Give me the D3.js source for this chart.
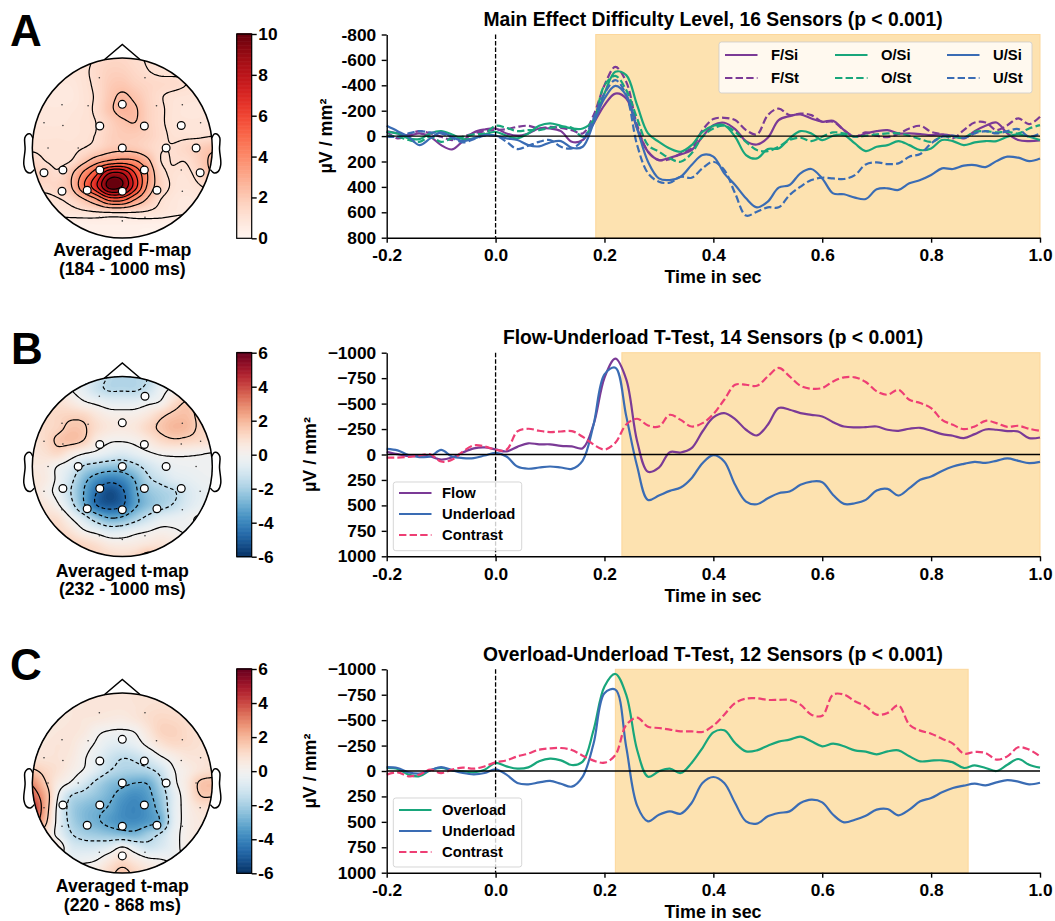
<!DOCTYPE html>
<html>
<head>
<meta charset="utf-8">
<script src="https://cdn.jsdelivr.net/npm/d3@7"></script>
<style>
  html, body { margin: 0; padding: 0; background: #fff; }
  text { font-family: "Liberation Sans", Arial, sans-serif; font-weight: bold; fill: #000; }
</style>
</head>
<body>
<svg id="fig" width="1055" height="921"></svg>
<script>
// time axis of all line plots (sec), one sample every 20 ms
const times = d3.range(61).map((i) => -0.2 + i * 0.02);

// panel A series (uV / mm2, negative is up)
const fSi = [-39,-21,-3,-21,5,71,105,39,-29,-52,-60,-21,-3,-21,-60,-60,-39,45,31,-100,-244,-335,-296,-60,123,189,170,144,110,5,-86,-105,-55,39,66,13,-126,-157,-170,-139,-113,-120,-47,5,-21,-39,-47,-21,-21,-16,-8,-13,-3,18,-39,-81,-107,-21,31,39,34];
const fSt = [-34,18,-13,-39,-21,5,31,5,-21,-39,-47,-55,-73,-81,-60,-73,-65,-47,-21,-165,-401,-545,-427,-86,123,189,181,136,97,-47,-134,-144,-126,-47,-13,-165,-217,-165,-178,-165,-113,-113,-47,5,-29,-3,8,-18,-60,-81,-34,-13,18,-47,-107,-107,-47,-86,-139,-94,-152];
const oSi = [-34,-21,18,24,-21,-39,-13,24,18,-13,-34,-3,18,-21,-81,-100,-81,-60,-60,-126,-335,-506,-480,-244,-21,45,97,123,71,-34,-81,-86,5,149,176,102,97,18,-39,-21,31,-3,-8,58,118,84,71,39,71,110,97,31,39,71,50,39,39,5,-13,5,31];
const oSt = [-3,5,31,45,5,45,18,5,-13,-21,-81,-65,-39,-47,-47,-65,-73,-65,5,-113,-401,-474,-362,-139,71,123,176,202,136,5,-60,-81,-34,45,110,118,84,31,13,39,5,-29,-21,5,-3,-13,-21,-21,-3,24,45,5,5,13,-34,-39,-29,-34,-21,-60,-86];
const uSi = [-81,-39,5,71,18,-29,5,39,18,-8,-3,18,31,71,81,50,39,92,84,-100,-296,-396,-322,-60,202,333,346,320,228,149,162,293,385,490,561,516,406,385,293,259,333,451,458,485,495,419,411,424,372,346,307,254,259,233,228,244,197,162,170,197,176];
const uSt = [5,5,-21,-39,-29,-21,13,50,24,-3,-3,45,102,76,45,31,84,97,31,-139,-335,-440,-322,71,293,359,367,320,328,254,202,267,451,626,595,561,561,464,398,346,328,333,338,307,223,207,220,215,162,141,58,5,-3,13,-21,-39,-21,-39,-55,5,-21];

// panel B series
const flowB = [-26,-3,15,10,20,50,30,-20,-60,-70,-50,-30,-75,-110,-100,-100,-85,-80,-62,-295,-754,-941,-738,-131,170,130,-23,-20,-62,-226,-364,-407,-348,-243,-187,-292,-456,-440,-407,-390,-374,-318,-275,-266,-269,-275,-243,-233,-253,-262,-233,-200,-184,-161,-200,-246,-243,-230,-226,-161,-167];
const underB = [-55,-40,5,25,20,-45,20,35,35,10,-15,20,118,140,128,118,128,141,59,-295,-787,-853,-377,115,446,403,357,325,233,85,7,69,298,462,489,430,380,364,298,266,272,397,485,479,446,354,338,403,331,249,216,161,118,92,72,82,62,39,62,85,72];
const contrastB = [30,30,23,10,-3,69,52,-30,-89,-79,-46,-46,-226,-253,-233,-220,-226,-230,-174,-98,-49,-115,-295,-351,-285,-275,-390,-340,-275,-308,-397,-538,-685,-685,-675,-767,-850,-767,-675,-646,-653,-718,-758,-758,-712,-620,-587,-636,-538,-505,-456,-341,-292,-249,-275,-331,-308,-272,-282,-253,-233];

// panel C series
const overC = [-30,-20,36,52,-7,-30,-7,3,13,-13,-79,-46,-23,-36,-95,-121,-105,-59,-92,-403,-830,-954,-748,-207,56,3,-23,20,-79,-226,-380,-400,-275,-193,-203,-249,-289,-308,-338,-292,-243,-269,-243,-203,-190,-164,-193,-203,-144,-95,-102,-105,-85,-30,-56,-30,0,-62,-118,-62,-33];
const underC = [-39,-30,13,26,-7,-39,-7,20,33,20,-16,36,118,131,112,98,125,154,55,-270,-765,-800,-235,340,495,430,397,420,315,118,59,118,315,495,518,446,413,397,315,282,308,430,505,479,440,380,374,436,380,298,266,210,167,144,125,141,112,89,105,131,115];
const contrastC = [36,13,52,36,-13,20,-13,-33,-23,-46,-85,-105,-144,-171,-210,-223,-226,-207,-151,-102,-82,-157,-453,-525,-436,-423,-407,-390,-390,-384,-446,-554,-669,-712,-715,-699,-699,-699,-653,-554,-544,-751,-751,-686,-636,-554,-571,-646,-456,-397,-367,-318,-269,-171,-187,-177,-112,-144,-233,-210,-144];

// tick labels
const xTicks = [-0.2, 0, 0.2, 0.4, 0.6, 0.8, 1.0];
const yTicksA = [-800, -600, -400, -200, 0, 200, 400, 600, 800];
const yTicksT = [-1000, -750, -500, -250, 0, 250, 500, 750, 1000];
const cbarTicksF = [0, 2, 4, 6, 8, 10];
const cbarTicksT = [-6, -4, -2, 0, 2, 4, 6];

// sensor layout in head radius units
const sensorNames = ["Fp1","Fp2","F7","F3","Fz","F4","F8","FT9","FC5","FC1","FC2","FC6","FT10","T7","C3","Cz","C4","T8","TP9","CP5","CP1","CP2","CP6","TP10","P7","P3","Pz","P4","P8","O1","Oz","O2"];
const sensorX = [-.255,.252,-.67,-.38,0,.38,.667,-.87,-.66,-.25,.245,.655,.87,-.825,-.49,0,.487,.82,-.87,-.66,-.25,.245,.655,.865,-.67,-.39,0,.385,.667,-.255,0,.252];
const sensorY = [.78,.78,.48,.47,.485,.47,.48,.28,.25,.245,.245,.25,.28,0,0,0,0,0,-.275,-.245,-.245,-.245,-.245,-.275,-.48,-.47,-.48,-.47,-.48,-.77,-.81,-.77];
const sigA = ["Fz","FC1","FC2","FC6","Cz","C4","T8","TP9","CP5","CP1","CP2","TP10","P7","P3","Pz","P4"];
const sigB = ["Fp2","Fz","FC1","FC2","C3","Cz","C4","CP5","CP1","CP2","CP6","P3","Pz","P4"];
const sigC = ["Fz","FC1","FC2","Cz","C4","CP5","CP1","CP2","P3","Pz","P4","Oz"];

// head outline in head radius units
const noseX = [-.2, 0, .2];
const noseY = [.98, 1.15, .98];
const earX = [.994, 1.02, 1.036, 1.06, 1.084, 1.08, 1.094, 1.064, 1.02, .978];
const earY = [.111, .155, .157, .149, .111, -.011, -.186, -.263, -.277, -.24];

const gridA = [
  [.98,.98,.98,.98,.98,1.31,1.53,1.53,1.31,1.14,.98,.98,.98,.98,.98],
  [.98,.98,.98,.98,1.07,1.42,1.74,1.74,1.47,1.22,1.04,1.04,1.09,.98,.98],
  [.87,.87,.82,.82,1.04,1.36,1.91,2.07,1.74,1.53,1.42,1.36,1.2,1.04,.98],
  [.76,.76,.71,.76,1,1.31,2.07,2.56,2.18,1.64,1.25,1.04,.98,.93,.93],
  [.82,.82,.82,.87,1,1.36,2.18,2.73,2.51,1.74,1.31,.98,.87,.87,.93],
  [.87,.87,.87,.93,1.04,1.22,1.74,2.23,2.4,1.74,1.31,.98,.93,.93,.98],
  [.98,.98,.98,.98,1.04,1.25,1.74,1.95,1.95,1.74,1.36,1.09,1.04,1.04,1.14],
  [1.09,1.04,1.04,1.04,1.2,1.53,2,2.1,2,1.64,1.25,1.25,1.53,1.85,2.18],
  [1.53,1.2,1.04,1.2,2.07,3.05,3.7,4,3.7,2.62,1.2,1.25,1.25,1.85,2.62],
  [1.85,1.64,1.31,2.18,3.9,5.8,8.5,8.5,6,3.5,1.53,1.09,1.04,1.53,2.4],
  [1.53,1.42,1.64,2.29,4.6,7,10,9.5,6.5,3.3,1.74,1.04,.93,1.14,1.42],
  [1.09,.98,1.14,1.47,2.3,3.5,5.2,5.2,3.6,2.2,1.2,.87,.76,.87,.98],
  [.87,.82,.87,.93,1.04,1.14,1.23,1.25,1.2,1.09,.93,.78,.71,.76,.76],
  [.33,.33,.33,.33,.35,.38,.38,.38,.38,.35,.35,.33,.33,.33,.33],
  [.33,.33,.33,.33,.33,.33,.33,.33,.33,.33,.33,.33,.33,.33,.33]
];
const gridB = [
  [.5,.5,.5,.3,-.3,-1,-1.6,-1.8,-1.7,-1.5,-.6,.1,.5,.5,.5],
  [.8,.8,.7,.05,-.5,-1.2,-1.6,-1.6,-1.6,-1.2,-.3,.2,.9,1,1],
  [1,1,.9,.6,.1,-.2,-.5,-.55,-.5,-.2,.1,1,1.55,1.2,1.1],
  [.9,1.1,1.2,1.3,1.2,.7,.35,.3,.35,.7,1.3,1.7,1.8,1.3,1],
  [.9,1.1,1.3,1.7,1.6,1,.65,.55,.7,1.2,1.65,2,1.9,1.35,1],
  [.8,1.1,1.65,1.8,1.45,.5,.1,.05,.2,.6,1.1,1.35,1.25,1.1,.9],
  [.7,.9,1.1,.5,.02,-.25,-.6,-.8,-.5,-.15,.1,.15,.12,.05,-.05],
  [.6,.5,-.05,-.6,-1.6,-2,-2.3,-2.3,-1.8,-1.1,-.6,-.3,-.2,-.15,-.1],
  [.7,.5,-.2,-1.2,-2.6,-3.6,-4.1,-3.8,-2.9,-1.7,-1.2,-.7,-.5,-.3,-.2],
  [.8,.3,-.3,-1.5,-3,-4.5,-5.3,-4.7,-3.2,-2.3,-1.9,-1.6,-.9,-.5,-.3],
  [.8,.7,.1,-1.1,-2.8,-4.5,-5,-4.6,-3.2,-2.4,-1.9,-1.4,-.8,-.4,-.2],
  [1,1,.9,0,-1,-2.2,-3,-2.8,-2,-1.2,-.6,-.4,-.2,.1,.1],
  [1.2,1.2,1.2,.8,.1,-.35,-.8,-.7,-.3,-.05,.2,.1,-.1,0,0],
  [1.5,1.5,1.5,1.4,1.2,.9,.5,.4,.5,.7,.8,.6,.4,.4,.4],
  [1.5,1.6,1.6,1.6,1.5,1.3,1.1,1,1.2,1.8,1.3,.8,.6,.6,.6]
];
const gridC = [
  [.7,.7,.7,.7,.7,.8,.8,.8,.8,.8,.8,.8,.8,.8,.8],
  [.7,.7,.7,.7,.7,.75,.75,.75,.8,.9,.95,.9,.9,.8,.8],
  [.6,.6,.6,.7,.7,.65,.55,.5,.7,1,1.2,1.15,1,.8,.8],
  [.6,.6,.7,.75,.6,.15,-.05,-.1,.05,.7,1.3,1.35,1.1,.9,.8],
  [.6,.7,.8,.7,.3,-.1,-.55,-.65,-.4,.2,.8,1.1,1.05,.9,.8],
  [.8,.8,.8,.6,.1,-.45,-1.1,-1.45,-1.3,-.8,-.1,.35,.7,.8,.8],
  [1.6,1.2,.85,.4,-.05,-.7,-1.45,-1.8,-1.85,-1.7,-1.1,-.05,.4,.8,1],
  [2.8,1.6,.5,-.1,-.9,-1.75,-2.4,-2.7,-3,-2.9,-1.75,-.25,.55,1.6,1.8],
  [3.6,2.2,0,-1.5,-1.9,-2.3,-2.8,-3.4,-3.7,-3.3,-2.2,-.6,.45,1.45,1.55],
  [4.6,2.2,-.3,-1.9,-2.5,-2.8,-3.1,-3.7,-3.9,-3.5,-2.5,-.6,.3,.8,.9],
  [3.8,1.8,-.35,-1.8,-2.5,-2.85,-3.3,-3.6,-3.7,-3.4,-2.8,-.6,.25,.6,.6],
  [1.5,.9,-.3,-1.4,-1.9,-2.1,-2.3,-2.5,-2.6,-2,-1.35,-.35,.3,.6,.6],
  [1,.8,.6,-.7,-.95,-.9,-.6,.05,-.6,-1.1,-.8,-.3,.3,.5,.5],
  [0,0,-.2,-.3,-.2,0,.6,1.05,.6,.2,.05,-.1,0,0,0],
  [.6,.6,.6,.5,.5,.6,1.2,1.75,1.25,.8,.5,.3,.2,.2,.2]
];

// line colours
const purple = "#7b3a96";
const green = "#18a67b";
const blue = "#3a6cb4";
const pink = "#ee3e74";

const svg = d3.select("#fig");
const dashLine = "7.4 3.2";

const colorF = d3.scaleSequential(d3.interpolateReds).domain([0, 10]);
const colorT = d3.scaleSequential((t) => d3.interpolateRdBu(1 - t)).domain([-6, 6]);

// Catmull-Rom resampling of a coarse grid, the contours need a finer raster
function upsample(grid, factor) {
  const rows = grid.length;
  const cols = grid[0].length;
  const n = (cols - 1) * factor + 1;
  const m = (rows - 1) * factor + 1;
  const out = new Float64Array(n * m);
  const cr = (a, b, c, d, t) =>
    b + 0.5 * t * (c - a + t * (2 * a - 5 * b + 4 * c - d + t * (3 * (b - c) + d - a)));
  const at = (r, c) => grid[Math.max(0, Math.min(rows - 1, r))][Math.max(0, Math.min(cols - 1, c))];
  for (let j = 0; j < m; j++) {
    const r = Math.min(Math.floor(j / factor), rows - 2);
    const v = j / factor - r;
    for (let i = 0; i < n; i++) {
      const c = Math.min(Math.floor(i / factor), cols - 2);
      const u = i / factor - c;
      const col = [-1, 0, 1, 2].map((dr) =>
        cr(at(r + dr, c - 1), at(r + dr, c), at(r + dr, c + 1), at(r + dr, c + 2), u)
      );
      out[j * n + i] = cr(col[0], col[1], col[2], col[3], v);
    }
  }
  return { values: out, n: n, m: m };
}

function drawTopomap(opts) {
  const g = svg.append("g").attr("transform", `translate(${opts.cx}, ${opts.cy})`);
  const r = opts.r;
  const fine = upsample(opts.grid, 8);

  const x = d3.scaleLinear().domain([-1, 1]).range([-r, r]);
  const y = d3.scaleLinear().domain([-1, 1]).range([r, -r]);
  const gx = d3.scaleLinear().domain([0.5, fine.n - 0.5]).range([-r, r]);
  const gy = d3.scaleLinear().domain([0.5, fine.m - 0.5]).range([-r, r]);
  const path = d3.geoPath(
    d3.geoTransform({
      point: function (px, py) {
        this.stream.point(gx(px), gy(py));
      },
    })
  );

  g.append("clipPath").attr("id", opts.id).append("circle").attr("r", r);
  const inside = g.append("g").attr("clip-path", `url(#${opts.id})`);

  // filled bands, a new layer every 0.1 of the colour scale
  const bandLevels = d3.range(opts.color.domain()[0], opts.color.domain()[1] + 0.001, 0.1);
  const contours = d3.contours().size([fine.n, fine.m]);
  inside
    .selectAll(".band")
    .data(contours.thresholds(bandLevels)(fine.values))
    .enter()
    .append("path")
    .attr("class", "band")
    .attr("d", path)
    .attr("fill", (d) => opts.color(d.value));

  // contour lines
  inside
    .selectAll(".level")
    .data(contours.thresholds(opts.levels)(fine.values))
    .enter()
    .append("path")
    .attr("class", "level")
    .attr("d", path)
    .attr("fill", "none")
    .attr("stroke", "#000")
    .attr("stroke-width", 1.2)
    .attr("stroke-dasharray", (d) => (d.value < 0 ? "3.7 2.5" : null));

  // sensors
  const sensors = sensorNames.map((name, i) => ({ name: name, x: sensorX[i], y: sensorY[i] }));
  g.selectAll(".dot")
    .data(sensors.filter((d) => !opts.sig.includes(d.name)))
    .enter()
    .append("circle")
    .attr("class", "dot")
    .attr("cx", (d) => x(d.x))
    .attr("cy", (d) => y(d.y))
    .attr("r", 0.8)
    .attr("fill", "#333");
  g.selectAll(".sig")
    .data(sensors.filter((d) => opts.sig.includes(d.name)))
    .enter()
    .append("circle")
    .attr("class", "sig")
    .attr("cx", (d) => x(d.x))
    .attr("cy", (d) => y(d.y))
    .attr("r", 3.9)
    .attr("fill", "#fff")
    .attr("stroke", "#000")
    .attr("stroke-width", 1.2);

  // head, nose, ears
  const outline = d3.line().x((d) => x(d[0])).y((d) => y(d[1]));
  const outlineCurve = d3.line().x((d) => x(d[0])).y((d) => y(d[1])).curve(d3.curveCatmullRom);
  const head = g.append("g").attr("fill", "none").attr("stroke", "#000").attr("stroke-width", 1.5);
  head.append("circle").attr("r", r);
  head.append("path").attr("d", outline(d3.zip(noseX, noseY)));
  head.append("path").attr("d", outlineCurve(d3.zip(earX, earY)));
  head.append("path").attr("d", outlineCurve(d3.zip(earX.map((d) => -d), earY)));

  const caption = g.append("g").attr("text-anchor", "middle").style("font-size", "17.7px");
  caption.append("text").attr("y", opts.capY[0]).text(opts.caption[0]);
  caption.append("text").attr("y", opts.capY[1]).text(opts.caption[1]);
}

function drawColorbar(opts) {
  const width = 15;
  const g = svg.append("g").attr("transform", `translate(${opts.x}, ${opts.top})`);
  const domain = opts.color.domain();
  const h = opts.bottom - opts.top;
  const y = d3.scaleLinear().domain(domain).range([h, 0]);
  const steps = d3.range(256).map((i) => domain[0] + ((domain[1] - domain[0]) * i) / 255);

  g.selectAll("rect")
    .data(steps)
    .enter()
    .append("rect")
    .attr("x", 0)
    .attr("width", width)
    .attr("y", (d) => y(d) - h / 255)
    .attr("height", h / 255 + 0.6)
    .attr("fill", (d) => opts.color(d));

  g.append("rect")
    .attr("width", width)
    .attr("height", h)
    .attr("fill", "none")
    .attr("stroke", "#000")
    .attr("stroke-width", 1.2);

  const axis = g
    .append("g")
    .attr("transform", `translate(${width}, 0)`)
    .call(d3.axisRight(y).tickValues(opts.ticks).tickSize(5).tickSizeOuter(0).tickPadding(1.6).tickFormat((d) => String(d)));
  axis.select(".domain").remove();
  axis.selectAll("line").attr("stroke-width", 1.4);
  axis.selectAll("text").style("font-size", "17.3px");
}

function drawLines(opts) {
  const left = 386.7;
  const right = 1040;
  const x = d3.scaleLinear().domain([-0.2, 1.0]).range([left, right]);
  const y = d3.scaleLinear().domain(opts.yDomain).range([opts.top, opts.bottom]);

  const g = svg.append("g");

  // significant time window
  g.append("rect")
    .attr("x", x(opts.window[0]))
    .attr("width", x(opts.window[1]) - x(opts.window[0]))
    .attr("y", opts.top)
    .attr("height", opts.bottom - opts.top)
    .attr("fill", "#fde2b0")
    .attr("stroke", "#fcd79b")
    .attr("stroke-width", 1);

  const line = d3
    .line()
    .x((d) => x(d[0]))
    .y((d) => y(d[1]))
    .curve(d3.curveCatmullRom);

  g.selectAll(".trace")
    .data(opts.series)
    .enter()
    .append("path")
    .attr("class", "trace")
    .attr("d", (d) => line(d3.zip(times, d.values)))
    .attr("fill", "none")
    .attr("stroke", (d) => d.color)
    .attr("stroke-width", 2.2)
    .attr("stroke-dasharray", (d) => (d.dashed ? dashLine : null));

  // zero line and stimulus onset
  g.append("line")
    .attr("x1", left)
    .attr("x2", right)
    .attr("y1", y(0))
    .attr("y2", y(0))
    .attr("stroke", "#000")
    .attr("stroke-width", 1.3);
  g.append("line")
    .attr("x1", x(0))
    .attr("x2", x(0))
    .attr("y1", opts.top)
    .attr("y2", opts.bottom)
    .attr("stroke", "#000")
    .attr("stroke-width", 1.3)
    .attr("stroke-dasharray", "4.5 2");

  const xAxis = g
    .append("g")
    .attr("transform", `translate(0, ${opts.bottom})`)
    .call(d3.axisBottom(x).tickValues(xTicks).tickSize(5).tickSizeOuter(0).tickPadding(6).tickFormat((d) => d.toFixed(1)));
  const yAxis = g
    .append("g")
    .attr("transform", `translate(${left}, 0)`)
    .call(d3.axisLeft(y).tickValues(opts.yTicks).tickSize(5).tickSizeOuter(0).tickPadding(5.5).tickFormat(opts.yFormat));
  [xAxis, yAxis].forEach((axis) => {
    axis.selectAll("text").style("font-size", "17.3px");
    axis.selectAll("line").attr("stroke-width", 1.4);
    axis.select(".domain").attr("stroke-width", 1.4);
  });

  g.append("text")
    .attr("x", 713)
    .attr("y", opts.titleY)
    .attr("text-anchor", "middle")
    .style("font-size", "19.3px")
    .text(opts.title);
  g.append("text")
    .attr("x", 713)
    .attr("y", opts.xLabelY)
    .attr("text-anchor", "middle")
    .style("font-size", "17.9px")
    .text("Time in sec");
  g.append("text")
    .attr("transform", `translate(${opts.yLabelX}, ${(opts.top + opts.bottom) / 2}) rotate(-90)`)
    .attr("text-anchor", "middle")
    .style("font-size", "17.9px")
    .text("µV / mm²");

  // legend
  const lg = g.append("g");
  lg.append("rect")
    .attr("x", opts.legend.x)
    .attr("y", opts.legend.y)
    .attr("width", opts.legend.w)
    .attr("height", opts.legend.h)
    .attr("rx", 2.5)
    .attr("fill", "#fff")
    .attr("fill-opacity", 0.8)
    .attr("stroke", "#ccc")
    .attr("stroke-opacity", 0.8);
  opts.series.forEach((s, i) => {
    const pos = opts.legend.pos[i];
    lg.append("line")
      .attr("x1", pos[0])
      .attr("x2", pos[0] + 32.5)
      .attr("y1", pos[1])
      .attr("y2", pos[1])
      .attr("stroke", s.color)
      .attr("stroke-width", 2.2)
      .attr("stroke-dasharray", s.dashed ? dashLine : null);
    lg.append("text")
      .attr("x", pos[0] + opts.legend.textGap)
      .attr("y", pos[1] + 5.3)
      .style("font-size", "14.8px")
      .text(s.name);
  });
}

function panelLetter(letter, x, y) {
  svg.append("text").attr("x", x).attr("y", y).style("font-size", "44px").text(letter);
}

const plainFormat = (d) => String(d);
const minusFormat = (d) => (d < 0 ? "\u2212" + Math.abs(d) : String(d));

// Panel A
panelLetter("A", 10, 46);
drawTopomap({
  id: "headA", cx: 122.3, cy: 148, r: 90, grid: gridA, color: colorF, sig: sigA,
  levels: [0.66, 1.2, 2.4, 3.6, 4.8, 6, 7.2, 8.4, 9.6],
  caption: ["Averaged F-map", "(184 - 1000 ms)"], capY: [108, 127],
});
drawColorbar({ x: 236.7, top: 34, bottom: 238.3, color: colorF, ticks: cbarTicksF });
drawLines({
  top: 34.5, bottom: 237.7, yDomain: [-800, 800], yTicks: yTicksA, yFormat: plainFormat,
  window: [0.184, 1.0], title: "Main Effect Difficulty Level, 16 Sensors (p < 0.001)",
  titleY: 25.5, xLabelY: 283, yLabelX: 332,
  series: [
    { name: "F/Si", values: fSi, color: purple, dashed: false },
    { name: "F/St", values: fSt, color: purple, dashed: true },
    { name: "O/Si", values: oSi, color: green, dashed: false },
    { name: "O/St", values: oSt, color: green, dashed: true },
    { name: "U/Si", values: uSi, color: blue, dashed: false },
    { name: "U/St", values: uSt, color: blue, dashed: true },
  ],
  legend: { x: 719, y: 42, w: 313, h: 51, textGap: 46, pos: [[725, 55], [725, 78], [835, 55], [835, 78], [947, 55], [947, 78]] },
});

// Panel B
panelLetter("B", 11, 364);
drawTopomap({
  id: "headB", cx: 122.3, cy: 466.5, r: 90, grid: gridB, color: colorT, sig: sigB,
  levels: [-4.5, -3, -1.5, 0, 1.5],
  caption: ["Averaged t-map", "(232 - 1000 ms)"], capY: [110, 128],
});
drawColorbar({ x: 236.7, top: 352.7, bottom: 556.7, color: colorT, ticks: cbarTicksT });
drawLines({
  top: 352.7, bottom: 556.3, yDomain: [-1000, 1000], yTicks: yTicksT, yFormat: minusFormat,
  window: [0.232, 1.0], title: "Flow-Underload T-Test, 14 Sensors (p < 0.001)",
  titleY: 344, xLabelY: 601.5, yLabelX: 316,
  series: [
    { name: "Flow", values: flowB, color: purple, dashed: false },
    { name: "Underload", values: underB, color: blue, dashed: false },
    { name: "Contrast", values: contrastB, color: pink, dashed: true },
  ],
  legend: { x: 393.3, y: 482, w: 128.4, h: 68.7, textGap: 43, pos: [[399, 493], [399, 514], [399, 535]] },
});

// Panel C
panelLetter("C", 10, 680);
drawTopomap({
  id: "headC", cx: 122.3, cy: 783, r: 90, grid: gridC, color: colorT, sig: sigC,
  levels: [-4.5, -3, -1.5, 0, 1.5, 3],
  caption: ["Averaged t-map", "(220 - 868 ms)"], capY: [109, 128],
});
drawColorbar({ x: 236.7, top: 669, bottom: 873.3, color: colorT, ticks: cbarTicksT });
drawLines({
  top: 669.3, bottom: 872.7, yDomain: [-1000, 1000], yTicks: yTicksT, yFormat: minusFormat,
  window: [0.22, 0.868], title: "Overload-Underload T-Test, 12 Sensors (p < 0.001)",
  titleY: 660.5, xLabelY: 918, yLabelX: 316,
  series: [
    { name: "Overload", values: overC, color: green, dashed: false },
    { name: "Underload", values: underC, color: blue, dashed: false },
    { name: "Contrast", values: contrastC, color: pink, dashed: true },
  ],
  legend: { x: 393.3, y: 798, w: 128.4, h: 69, textGap: 43, pos: [[399, 810], [399, 831], [399, 852]] },
});
</script>
</body>
</html>
